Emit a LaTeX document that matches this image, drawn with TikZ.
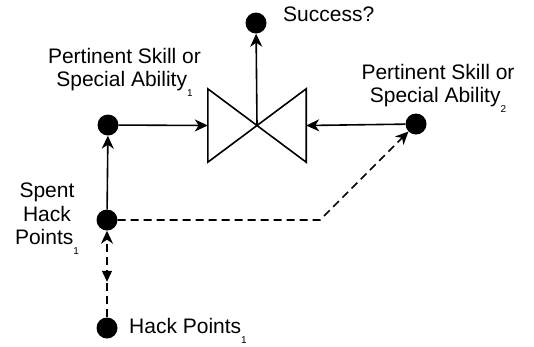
\documentclass[tikz,border=0pt]{standalone}
\usepackage{fontspec}
\setmainfont{Liberation Sans}
\usetikzlibrary{arrows.meta,positioning,decorations.markings}
\newcommand{\subnum}[1]{\raisebox{-10pt}{\fontsize{10}{10}\selectfont #1}}

\begin{document}
\begin{tikzpicture}[
      x=1pt, y=-1pt,
      dot/.style={circle, fill=black, inner sep=0pt, minimum size=21pt},
      lbl/.style={font=\fontsize{21}{23.5}\selectfont, align=center, inner sep=0pt},
      flow/.style={line width=1.6pt, -{Stealth[length=13pt,width=12pt,inset=4pt]}},
      dashflow/.style={flow, dash pattern=on 8pt off 5pt}
    ]
      \useasboundingbox (0,0) rectangle (534,346);

      % valve in the middle
      \node[minimum width=98pt, minimum height=73pt, inner sep=0pt] (valve) at (257,125.5) {};
      \draw[line width=1.6pt, line join=miter]
        (valve.north west) -- (valve.south east) -- (valve.north east) -- (valve.south west) -- cycle;

      % dots
      \node[dot] (success) at (256,23) {};
      \node[dot] (skillA) at (108,125) {};
      \node[dot] (skillB) at (416,124) {};
      \node[dot] (spent) at (107,220) {};
      \node[dot] (hack) at (107,328) {};
      \coordinate (bend) at (320,220);

      % labels
      \node[lbl, anchor=base west] (successlbl) at (283,21) {Success?};
      \node[lbl, anchor=south] (skillAlbl) at (124.5,97) {Pertinent Skill or\\Special Ability\subnum{1}};
      \node[lbl, anchor=south] (skillBlbl) at (438,113) {Pertinent Skill or\\Special Ability\subnum{2}};
      \node[lbl, anchor=south] (spentlbl) at (47,255) {Spent\\Hack\\Points\subnum{1}};
      \node[lbl, anchor=base west] (hacklbl) at (129,333) {Hack Points\subnum{1}};

      % connectors
      \draw[flow] (valve.center) -- (success);
      \draw[flow] (skillA) -- (valve.west);
      \draw[flow] (skillB) -- (valve.east);
      \draw[flow] (spent) -- (skillA);
      \draw[dashflow] (spent) -- (bend) -- (skillB);
      \draw[dashflow, postaction={decorate}, decoration={markings,
          mark=at position 0.41 with {\arrowreversed[line width=1pt]{Triangle[length=11pt,width=10pt]}}}]
        (hack) -- (spent);
    \end{tikzpicture}
\end{document}
